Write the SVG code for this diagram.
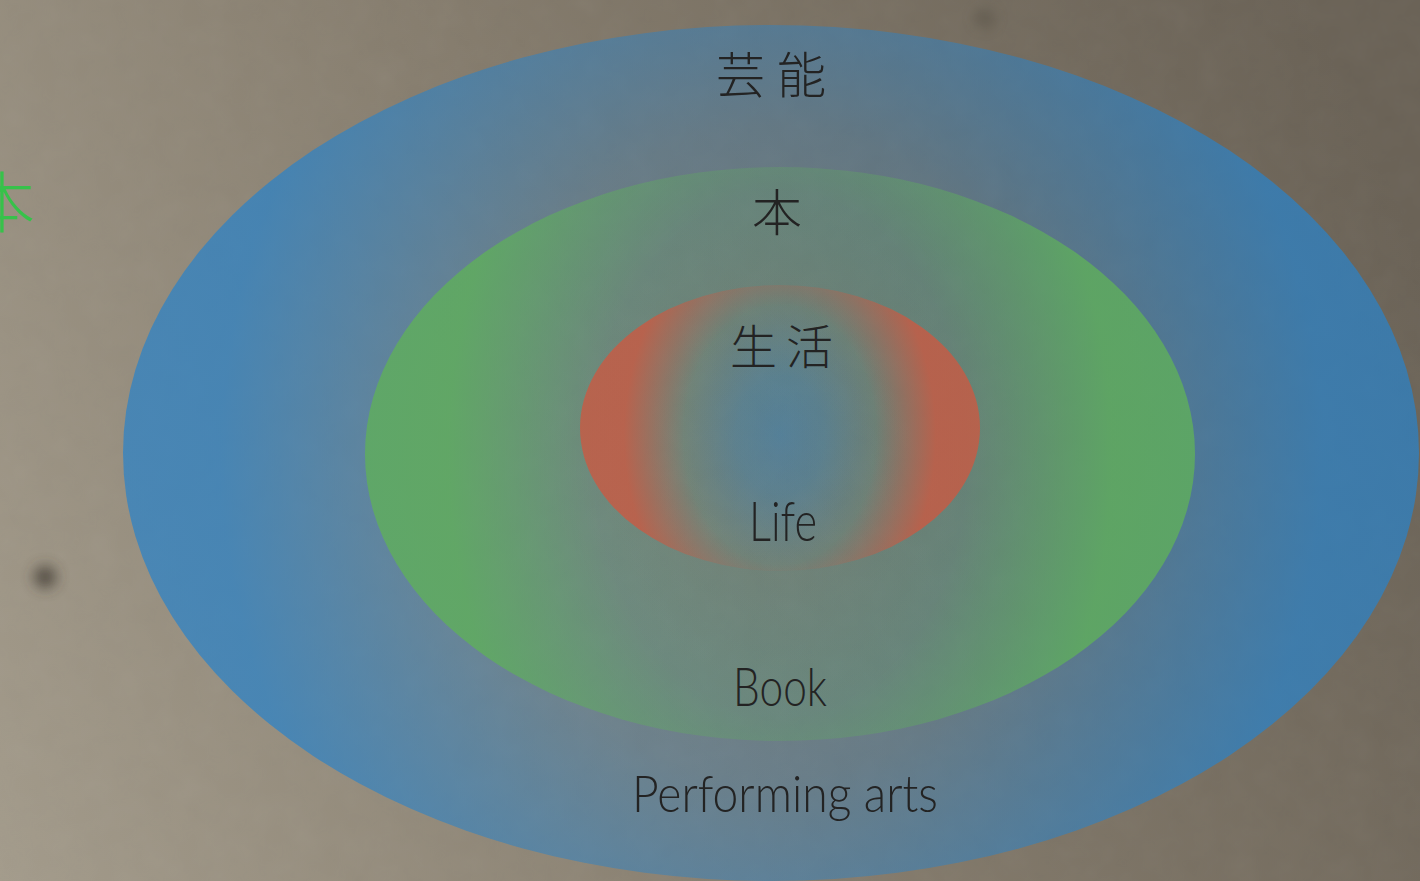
<svg xmlns="http://www.w3.org/2000/svg" width="1420" height="881" viewBox="0 0 1420 881">
  <style>
    .cjk { font-family: "Noto Sans CJK JP", "Noto Sans CJK SC", sans-serif; font-weight: 300; fill: #232323; text-anchor: middle; }
    .lat { font-family: "Lato", "Noto Sans", "Liberation Sans", sans-serif; font-weight: 300; fill: #232323; text-anchor: middle; }
  </style>
  <defs>
    <linearGradient id="bg" gradientUnits="userSpaceOnUse" x1="0" y1="881" x2="1420" y2="250">
      <stop offset="0" stop-color="#a39b8b"/>
      <stop offset="0.5" stop-color="#847b6c"/>
      <stop offset="1" stop-color="#6a6256"/>
    </linearGradient>
    <filter id="noise" x="0" y="0" width="100%" height="100%">
      <feTurbulence type="fractalNoise" baseFrequency="0.035" numOctaves="3" seed="4"/>
      <feColorMatrix type="saturate" values="0"/>
    </filter>
    <filter id="blur" x="-2" y="-2" width="5" height="5">
      <feGaussianBlur stdDeviation="7"/>
    </filter>
    <radialGradient id="gOuter" gradientUnits="userSpaceOnUse" cx="771" cy="453" r="648" gradientTransform="translate(771 453) scale(1 1.12) translate(-771 -453)">
      <stop offset="0" stop-color="#2a82c8" stop-opacity="0.12"/>
      <stop offset="0.45" stop-color="#2a82c8" stop-opacity="0.3"/>
      <stop offset="0.85" stop-color="#2a82c8" stop-opacity="0.72"/>
      <stop offset="1" stop-color="#2a82c8" stop-opacity="0.72"/>
    </radialGradient>
    <radialGradient id="gMiddle" gradientUnits="userSpaceOnUse" cx="780" cy="454" r="415" gradientTransform="translate(780 454) scale(1 1.4) translate(-780 -454)">
      <stop offset="0" stop-color="#5fae5c" stop-opacity="0.08"/>
      <stop offset="0.45" stop-color="#5fae5c" stop-opacity="0.2"/>
      <stop offset="0.8" stop-color="#5fae5c" stop-opacity="0.82"/>
      <stop offset="1" stop-color="#5fae5c" stop-opacity="0.82"/>
    </radialGradient>
    <radialGradient id="gInner" gradientUnits="userSpaceOnUse" cx="780" cy="435" r="200" gradientTransform="translate(780 435) scale(1 1.35) translate(-780 -435)">
      <stop offset="0" stop-color="#2a82c8" stop-opacity="0.42"/>
      <stop offset="0.22" stop-color="#2a82c8" stop-opacity="0.3"/>
      <stop offset="0.48" stop-color="#2a82c8" stop-opacity="0"/>
      <stop offset="0.48" stop-color="#c75b44" stop-opacity="0"/>
      <stop offset="0.78" stop-color="#c75b44" stop-opacity="0.82"/>
      <stop offset="1" stop-color="#c75b44" stop-opacity="0.82"/>
    </radialGradient>
  </defs>

  <g id="background">
    <rect x="0" y="0" width="1420" height="881" fill="url(#bg)"/>
    <rect x="0" y="0" width="1420" height="881" filter="url(#noise)" opacity="0.045"/>
    <circle cx="45" cy="577" r="11" fill="#3b352d" opacity="0.75" filter="url(#blur)"/>
    <circle cx="985" cy="18" r="10" fill="#4a443a" opacity="0.4" filter="url(#blur)"/>
    <text id="side-label" x="2" y="227" font-family="Noto Sans CJK JP, Noto Sans CJK SC, sans-serif" font-size="66" font-weight="300" fill="#36c24a" text-anchor="middle">本</text>
  </g>

  <g id="node-performing-arts">
    <ellipse cx="771" cy="453" rx="648" ry="428" fill="url(#gOuter)"/>
  </g>
  <g id="node-book">
    <ellipse cx="780" cy="454" rx="415" ry="287" fill="url(#gMiddle)"/>
  </g>
  <g id="node-life">
    <ellipse cx="780" cy="428" rx="200" ry="143" fill="url(#gInner)"/>
  </g>

  <g id="labels">
    <text class="cjk" x="777" y="93" font-size="49" letter-spacing="12">芸能</text>
    <text class="cjk" x="777" y="231" font-size="50">本</text>
    <text class="cjk" x="786" y="364" font-size="47" letter-spacing="9">生活</text>
    <text class="lat" x="783" y="541" font-size="56" textLength="68" lengthAdjust="spacingAndGlyphs">Life</text>
    <text class="lat" x="780" y="706" font-size="53" textLength="94" lengthAdjust="spacingAndGlyphs">Book</text>
    <text class="lat" x="785" y="812" font-size="52" textLength="306" lengthAdjust="spacingAndGlyphs">Performing arts</text>
  </g>

  <g id="connectors"/>
</svg>
